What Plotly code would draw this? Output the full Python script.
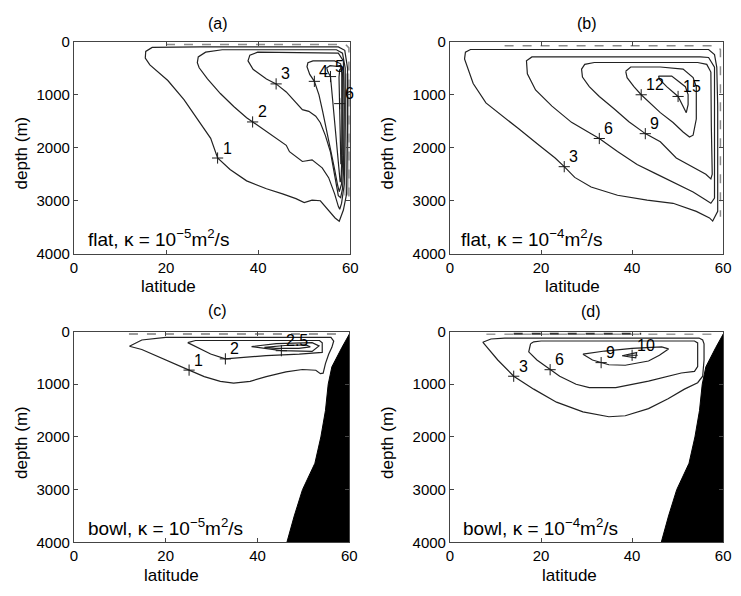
import plotly.graph_objects as go

FONT = "Liberation Sans"

# ---------------- panel (a): flat, kappa = 1e-5 ----------------
A1_LAT = [59.4, 59.4, 58.8, 57.4, 27.5, 17.0, 15.6, 15.5, 16.5, 20.4, 23.9, 26.8, 29.7, 31.2, 33.9, 37.5, 41.8, 45.3, 48.2, 50.0, 51.7, 53.5, 55.3, 56.7, 57.6, 58.5, 59.2, 59.4]
A1_DEP = [1590, 500, 165, 100, 100, 110, 185, 310, 440, 735, 1095, 1460, 1825, 2195, 2410, 2625, 2775, 2870, 2960, 3035, 2990, 3000, 3175, 3325, 3385, 3175, 2870, 1590]
A2_LAT = [58.9, 58.9, 58.3, 57.0, 32.2, 28.6, 27.0, 26.8, 27.2, 29.0, 31.8, 34.7, 37.5, 38.8, 41.1, 43.9, 46.1, 46.8, 49.6, 51.7, 53.9, 55.3, 56.6, 57.4, 57.7, 58.1, 58.7, 58.9]
A2_DEP = [1590, 500, 220, 155, 155, 200, 290, 400, 495, 705, 980, 1225, 1435, 1515, 1650, 1830, 1955, 2075, 2260, 2230, 2380, 2565, 2870, 3105, 3160, 3050, 2685, 1590]
A3_LAT = [58.5, 58.7, 58.5, 57.4, 39.9, 38.2, 37.8, 38.9, 41.8, 43.9, 46.1, 48.2, 49.6, 51.0, 52.5, 53.5, 54.6, 55.7, 56.4, 57.0, 57.4, 57.9, 58.3, 58.5]
A3_DEP = [2500, 1225, 365, 220, 200, 256, 365, 524, 707, 798, 950, 1163, 1284, 1315, 1406, 1529, 1772, 2082, 2411, 2685, 2904, 2941, 2776, 2500]
A4_LAT = [58.4, 58.4, 57.9, 56.6, 51.9, 50.8, 50.6, 51.2, 52.2, 53.2, 54.0, 54.9, 55.7, 56.6, 57.2, 57.6, 58.1, 58.4]
A4_DEP = [2140, 680, 420, 365, 365, 400, 475, 620, 750, 1005, 1315, 1680, 2045, 2410, 2685, 2830, 2685, 2140]
A5_LAT = [58.2, 58.2, 57.9, 55.6, 54.9, 55.1, 55.7, 56.0, 56.6, 57.1, 57.5, 57.8, 58.0, 58.2]
A5_DEP = [2140, 585, 475, 455, 495, 565, 660, 950, 1405, 1955, 2410, 2650, 2595, 2140]
A6_LAT = [58.2, 58.2, 58.0, 57.7, 57.55, 57.65, 57.75, 57.95, 58.1, 58.2]
A6_DEP = [1770, 585, 510, 530, 675, 1170, 1770, 2300, 2300, 1770]
A_SURF_LAT = [20.0, 59.0, 59.7, 59.7]
A_SURF_DEP = [55, 55, 120, 3000]
A_WALL_LAT = [58.8, 59.8, 59.8, 58.6]
A_WALL_DEP = [600, 600, 2900, 2900]
A_LBL_LAT = [31.2, 38.8, 43.9, 52.2, 55.7, 57.7]
A_LBL_DEP = [2195, 1515, 798, 750, 660, 1170]
A_LBL_TXT = ["1", "2", "3", "4", "5", "6"]

# ---------------- panel (b): flat, kappa = 1e-4 ----------------
B3_LAT = [58.8, 58.6, 58.1, 56.8, 4.5, 3.4, 3.2, 3.6, 5.1, 7.9, 11.6, 15.1, 19.5, 23.1, 25.1, 27.4, 31.0, 36.8, 43.3, 49.0, 54.1, 57.0, 57.7, 58.8, 58.8]
B3_DEP = [1220, 485, 247, 150, 150, 200, 330, 425, 790, 1157, 1400, 1645, 1950, 2195, 2358, 2560, 2742, 2896, 2988, 3048, 3200, 3323, 3383, 3200, 1220]
B6_LAT = [58.1, 58.1, 56.8, 55.0, 18.0, 16.8, 17.0, 18.8, 22.4, 26.7, 31.0, 32.8, 36.8, 41.1, 45.4, 49.7, 53.4, 56.2, 57.3, 58.1, 58.1]
B6_DEP = [2000, 485, 300, 290, 290, 362, 608, 912, 1217, 1523, 1736, 1827, 2072, 2316, 2499, 2682, 2834, 2988, 3048, 2950, 2000]
B9_LAT = [57.4, 57.3, 56.4, 54.4, 31.7, 29.6, 28.9, 29.1, 30.6, 32.8, 36.1, 39.3, 42.9, 46.2, 49.7, 53.4, 56.2, 57.3, 57.6, 57.4]
B9_DEP = [1585, 575, 430, 395, 395, 430, 520, 670, 850, 1035, 1270, 1510, 1735, 1890, 2195, 2375, 2500, 2590, 2500, 1585]
B12_LAT = [38.6, 39.7, 46.2, 51.2, 53.4, 54.1, 54.1, 53.4, 52.6, 51.2, 49.0, 46.2, 42.0, 40.4, 38.9, 38.6]
B12_DEP = [560, 480, 480, 520, 680, 850, 1460, 1765, 1800, 1705, 1525, 1340, 1003, 850, 680, 560]
B15_LAT = [45.8, 48.7, 51.7, 52.3, 52.3, 51.9, 50.1, 47.6, 46.0, 45.8]
B15_DEP = [650, 650, 850, 1000, 1190, 1340, 1035, 850, 710, 650]
B_SURF_LAT = [12.0, 58.5, 59.4, 59.4]
B_SURF_DEP = [80, 80, 150, 3300]
B_LBL_LAT = [25.1, 32.8, 42.9, 42.0, 50.1]
B_LBL_DEP = [2358, 1827, 1736, 1003, 1035]
B_LBL_TXT = ["3", "6", "9", "12", "15"]

# ---------------- panel (c): bowl, kappa = 1e-5 ----------------
C1_LAT = [12.1, 14.8, 20.0, 56.0, 56.6, 56.2, 55.5, 54.8, 54.3, 53.7, 52.7, 49.8, 46.2, 41.9, 38.4, 34.8, 31.9, 28.4, 25.1, 21.9, 18.4, 14.8, 12.1]
C1_DEP = [280, 160, 110, 110, 180, 300, 430, 610, 790, 800, 735, 720, 765, 855, 945, 978, 947, 855, 732, 611, 470, 340, 280]
C2_LAT = [24.8, 26.5, 53.5, 54.1, 54.1, 49.1, 41.9, 34.8, 33.0, 29.8, 26.9, 24.8]
C2_DEP = [210, 170, 170, 215, 395, 427, 456, 500, 519, 427, 303, 210]
C25_LAT = [38.7, 44.1, 51.9, 53.4, 51.9, 45.2, 38.7]
C25_DEP = [285, 230, 211, 272, 377, 364, 285]
C3_LAT = [41.5, 46.0, 50.5, 51.5, 49.0, 44.0, 41.5]
C3_DEP = [300, 265, 255, 290, 320, 320, 300]
C_SURF_LAT = [12.0, 59.0]
C_SURF_DEP = [45, 45]
C_LBL_LAT = [25.1, 33.0, 45.2]
C_LBL_DEP = [732, 519, 364]
C_LBL_TXT = ["1", "2", "2.5"]

# ---------------- panel (d): bowl, kappa = 1e-4 ----------------
D3_LAT = [7.2, 9.0, 12.0, 54.7, 55.5, 55.8, 55.8, 55.5, 54.4, 51.5, 47.9, 43.6, 38.5, 34.9, 29.2, 23.4, 18.4, 14.0, 10.5, 7.2]
D3_DEP = [203, 142, 124, 124, 160, 235, 540, 848, 971, 1093, 1277, 1462, 1598, 1617, 1524, 1340, 1093, 848, 540, 203]
D6_LAT = [17.7, 18.4, 20.0, 53.7, 54.4, 54.4, 53.7, 50.8, 43.6, 36.4, 30.6, 27.7, 24.1, 22.0, 19.1, 17.3, 17.7]
D6_DEP = [234, 195, 180, 180, 215, 664, 756, 787, 940, 1064, 1064, 1001, 848, 724, 540, 387, 234]
D9_LAT = [29.2, 34.0, 40.0, 46.5, 48.0, 46.0, 43.6, 38.5, 34.9, 31.3, 29.2]
D9_DEP = [430, 370, 320, 290, 330, 450, 560, 640, 630, 540, 430]
D10_LAT = [37.8, 41.0, 40.8, 37.8]
D10_DEP = [460, 400, 500, 460]
D_SURF_LAT = [8.0, 58.0]
D_SURF_DEP = [50, 50]
D_SURF2_LAT = [14.0, 42.0]
D_SURF2_DEP = [40, 40]
D_LBL_LAT = [14.0, 22.0, 33.2, 40.0]
D_LBL_DEP = [848, 724, 590, 450]
D_LBL_TXT = ["3", "6", "9", "10"]

# bowl topography (panels c, d)
BOWL_LAT = [60.0, 60.0, 58.4, 56.2, 55.4, 54.8, 53.8, 52.5, 49.8, 48.0, 46.4, 60.0]
BOWL_DEP = [4000, 50, 300, 670, 1000, 1500, 2000, 2500, 3000, 3500, 4000, 4000]

X_TICKS = [0, 20, 40, 60]
Y_TICKS = [0, 1000, 2000, 3000, 4000]
PANEL_TITLES = ["(a)", "(b)", "(c)", "(d)"]
PANEL_NOTES = ["flat, κ = 10<sup>−5</sup>m<sup>2</sup>/s",
               "flat, κ = 10<sup>−4</sup>m<sup>2</sup>/s",
               "bowl, κ = 10<sup>−5</sup>m<sup>2</sup>/s",
               "bowl, κ = 10<sup>−4</sup>m<sup>2</sup>/s"]

fig = go.Figure()
LINE = dict(color="#222222", width=1.2)


def add_line(lat, dep, ax, **kw):
    xa, ya = ax
    line = kw.pop("line", LINE)
    fig.add_trace(go.Scatter(x=lat, y=dep, mode="lines", line=line, xaxis=xa, yaxis=ya,
                             hoverinfo="skip", showlegend=False, **kw))


def add_labels(lat, dep, txt, ax, xref, yref):
    xa, ya = ax
    fig.add_trace(go.Scatter(x=lat, y=dep, mode="markers", xaxis=xa, yaxis=ya,
                             marker=dict(symbol="cross-thin", size=8,
                                         line=dict(color="#1a1a1a", width=1)),
                             hoverinfo="skip", showlegend=False))
    for la, de, t in zip(lat, dep, txt):
        fig.add_annotation(x=la, y=de, xref=xref, yref=yref, text=t, showarrow=False,
                           xanchor="left", yanchor="middle", xshift=3, yshift=10,
                           font=dict(family=FONT, size=16, color="black"))


GRAY_DASH = dict(color="#8a8a8a", width=1.5, dash="dash")

# panel a
axa = ("x", "y")
fig.add_trace(go.Scatter(x=A_WALL_LAT, y=A_WALL_DEP, fill="toself", mode="none",
                         fillcolor="rgba(140,140,140,0.55)", xaxis="x", yaxis="y",
                         hoverinfo="skip", showlegend=False))
add_line(A_SURF_LAT, A_SURF_DEP, axa, line=GRAY_DASH)
for la, de in [(A1_LAT, A1_DEP), (A2_LAT, A2_DEP), (A3_LAT, A3_DEP),
               (A4_LAT, A4_DEP), (A5_LAT, A5_DEP), (A6_LAT, A6_DEP)]:
    add_line(la, de, axa)
add_labels(A_LBL_LAT, A_LBL_DEP, A_LBL_TXT, axa, "x", "y")

# panel b
axb = ("x2", "y2")
add_line(B_SURF_LAT, B_SURF_DEP, axb, line=GRAY_DASH)
for la, de in [(B3_LAT, B3_DEP), (B6_LAT, B6_DEP), (B9_LAT, B9_DEP),
               (B12_LAT, B12_DEP), (B15_LAT, B15_DEP)]:
    add_line(la, de, axb)
add_labels(B_LBL_LAT, B_LBL_DEP, B_LBL_TXT, axb, "x2", "y2")

# panel c
axc = ("x3", "y3")
add_line(C_SURF_LAT, C_SURF_DEP, axc, line=dict(color="#9a9a9a", width=2, dash="dash"))
for la, de in [(C1_LAT, C1_DEP), (C2_LAT, C2_DEP), (C25_LAT, C25_DEP), (C3_LAT, C3_DEP)]:
    add_line(la, de, axc)
fig.add_trace(go.Scatter(x=BOWL_LAT, y=BOWL_DEP, fill="toself", mode="lines",
                         line=dict(color="black", width=1), fillcolor="black",
                         xaxis="x3", yaxis="y3", hoverinfo="skip", showlegend=False))
add_labels(C_LBL_LAT, C_LBL_DEP, C_LBL_TXT, axc, "x3", "y3")

# panel d
axd = ("x4", "y4")
add_line(D_SURF_LAT, D_SURF_DEP, axd, line=dict(color="#9a9a9a", width=1.5, dash="dash"))
add_line(D_SURF2_LAT, D_SURF2_DEP, axd, line=dict(color="#333333", width=2, dash="dash"))
for la, de in [(D3_LAT, D3_DEP), (D6_LAT, D6_DEP), (D9_LAT, D9_DEP), (D10_LAT, D10_DEP)]:
    add_line(la, de, axd)
fig.add_trace(go.Scatter(x=BOWL_LAT, y=BOWL_DEP, fill="toself", mode="lines",
                         line=dict(color="black", width=1), fillcolor="black",
                         xaxis="x4", yaxis="y4", hoverinfo="skip", showlegend=False))
add_labels(D_LBL_LAT, D_LBL_DEP, D_LBL_TXT, axd, "x4", "y4")

W, H = 741, 596


def xdom(l, r):
    return [l / W, r / W]


def ydom(t, b):
    return [1 - b / H, 1 - t / H]


def xax(dom, anchor):
    return dict(domain=dom, anchor=anchor, range=[0, 60], tickvals=X_TICKS,
                ticks="inside", ticklen=4, tickcolor="#444", showline=True,
                linecolor="#444", linewidth=1, mirror="allticks", showgrid=False,
                zeroline=False, tickfont=dict(family=FONT, size=15, color="black"))


def yax(dom, anchor):
    return dict(domain=dom, anchor=anchor, range=[4000, 0], tickvals=Y_TICKS,
                ticks="inside", ticklen=4, tickcolor="#444", showline=True,
                linecolor="#444", linewidth=1, mirror="allticks", showgrid=False,
                zeroline=False, tickfont=dict(family=FONT, size=15, color="black"))


XL, XR = xdom(71, 352), xdom(453.3, 731)
XC = xdom(71, 351)
YT, YB = ydom(33.5, 252), ydom(332, 549)

fig.update_layout(
    width=W, height=H, margin=dict(l=0, r=0, t=0, b=0),
    paper_bgcolor="white", plot_bgcolor="white",
    font=dict(family=FONT, size=16, color="black"),
    xaxis=xax(XL, "y"), yaxis=yax(YT, "x"),
    xaxis2=xax(XR, "y2"), yaxis2=yax(YT, "x2"),
    xaxis3=xax(XC, "y3"), yaxis3=yax(YB, "x3"),
    xaxis4=xax(XR, "y4"), yaxis4=yax(YB, "x4"),
)

# panel titles, axis labels, notes
title_pos = [(218, 15), (593, 15), (217, 310), (597, 311)]
xlab_pos = [(167, 286), (578, 286), (170, 583), (575, 583)]
ylab_pos = [(18, 148), (390, 148), (18, 446), (390, 446)]
note_ref = [("x", "y"), ("x2", "y2"), ("x3", "y3"), ("x4", "y4")]
note_lat = [2.6, 2.0, 2.6, 2.4]
note_dep = [3700, 3710, 3700, 3712]
for i in range(4):
    tx, ty = title_pos[i]
    fig.add_annotation(x=tx / W, y=1 - ty / H, xref="paper", yref="paper", text=PANEL_TITLES[i],
                       showarrow=False, xanchor="center", yanchor="middle",
                       font=dict(family=FONT, size=16, color="black"))
    lx, ly = xlab_pos[i]
    fig.add_annotation(x=lx / W, y=1 - ly / H, xref="paper", yref="paper", text="latitude",
                       showarrow=False, xanchor="center", yanchor="middle",
                       font=dict(family=FONT, size=17, color="black"))
    yx, yy = ylab_pos[i]
    fig.add_annotation(x=yx / W, y=1 - yy / H, xref="paper", yref="paper", text="depth (m)",
                       showarrow=False, xanchor="center", yanchor="middle", textangle=-90,
                       font=dict(family=FONT, size=17, color="black"))
    xr, yr = note_ref[i]
    fig.add_annotation(x=note_lat[i], y=note_dep[i], xref=xr, yref=yr, text=PANEL_NOTES[i],
                       showarrow=False, xanchor="left", yanchor="middle",
                       font=dict(family=FONT, size=19, color="black"))

fig.write_html("out.html")
